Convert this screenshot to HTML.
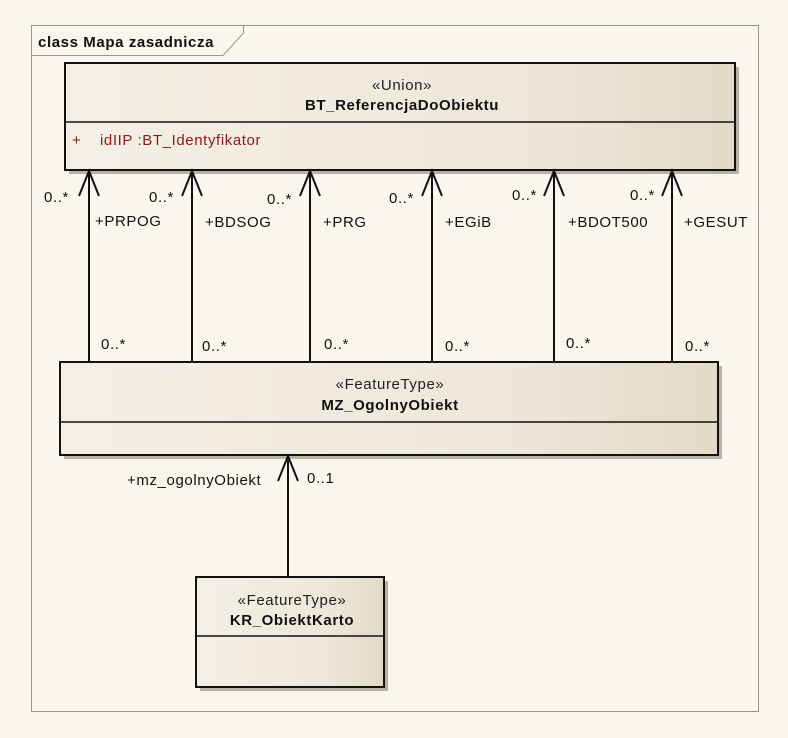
<!DOCTYPE html>
<html><head><meta charset="utf-8"><style>
html,body{margin:0;padding:0;background:#FAF6EE;}
svg{display:block;font-family:"Liberation Sans",sans-serif;}
svg text{letter-spacing:0.6px;}
</style></head><body>
<svg width="788" height="738" viewBox="0 0 788 738" xmlns="http://www.w3.org/2000/svg">
<defs>
<linearGradient id="g" x1="0" x2="1" y1="0" y2="0">
<stop offset="0" stop-color="#F4EFE5"/><stop offset="0.7" stop-color="#EEE7D9"/><stop offset="1" stop-color="#E2D9C6"/>
</linearGradient>
</defs>
<rect x="0" y="0" width="788" height="738" fill="#FAF6EE"/>
<rect x="31.5" y="25.5" width="727" height="686" fill="none" stroke="#9A948A" stroke-width="1"/>
<path d="M31.5 55.5 H223 L243.5 33 V25.5" fill="none" stroke="#9A948A" stroke-width="1"/>
<text x="38" y="47" font-size="15" font-weight="bold" fill="#111">class Mapa zasadnicza</text>

<!-- top box -->
<rect x="69" y="67" width="670" height="107" fill="#B8B2A6"/>
<rect x="65" y="63" width="670" height="107" fill="url(#g)" stroke="#111" stroke-width="2"/>
<line x1="65" y1="122" x2="735" y2="122" stroke="#111" stroke-width="1.5"/>
<text x="402" y="90" font-size="15" text-anchor="middle" fill="#222">«Union»</text>
<text x="402" y="110" font-size="15" font-weight="bold" text-anchor="middle" fill="#111">BT_ReferencjaDoObiektu</text>
<text x="72" y="145" font-size="15" fill="#8B1A1A">+</text>
<text x="100" y="145" font-size="15" fill="#8B1A1A">idIIP  :BT_Identyfikator</text>

<!-- middle box -->
<rect x="64" y="366" width="658" height="93" fill="#B8B2A6"/>
<rect x="60" y="362" width="658" height="93" fill="url(#g)" stroke="#111" stroke-width="2"/>
<line x1="60" y1="422" x2="718" y2="422" stroke="#111" stroke-width="1.5"/>
<text x="390" y="389" font-size="15" text-anchor="middle" fill="#222">«FeatureType»</text>
<text x="390" y="410" font-size="15" font-weight="bold" text-anchor="middle" fill="#111">MZ_OgolnyObiekt</text>

<!-- bottom box -->
<rect x="200" y="581" width="188" height="110" fill="#B8B2A6"/>
<rect x="196" y="577" width="188" height="110" fill="url(#g)" stroke="#111" stroke-width="2"/>
<line x1="196" y1="636" x2="384" y2="636" stroke="#111" stroke-width="1.5"/>
<text x="292" y="605" font-size="15" text-anchor="middle" fill="#222">«FeatureType»</text>
<text x="292" y="625" font-size="15" font-weight="bold" text-anchor="middle" fill="#111">KR_ObiektKarto</text>

<g stroke="#111" stroke-width="2" fill="none">
<path d="M89 361 V171 M79 196 L89 171 L99 196"/>
<path d="M192 361 V171 M182 196 L192 171 L202 196"/>
<path d="M310 361 V171 M300 196 L310 171 L320 196"/>
<path d="M432 361 V171 M422 196 L432 171 L442 196"/>
<path d="M554 361 V171 M544 196 L554 171 L564 196"/>
<path d="M672 361 V171 M662 196 L672 171 L682 196"/>
<path d="M288 577 V456 M278 481 L288 456 L298 481"/>
</g>

<g font-size="15" fill="#111">
<text x="44" y="202">0..*</text>
<text x="149" y="202">0..*</text>
<text x="267" y="204">0..*</text>
<text x="389" y="203">0..*</text>
<text x="512" y="200">0..*</text>
<text x="630" y="200">0..*</text>
<text x="95" y="226">+PRPOG</text>
<text x="205" y="227">+BDSOG</text>
<text x="323" y="227">+PRG</text>
<text x="445" y="227">+EGiB</text>
<text x="568" y="227">+BDOT500</text>
<text x="684" y="227">+GESUT</text>
<text x="101" y="349">0..*</text>
<text x="202" y="351">0..*</text>
<text x="324" y="349">0..*</text>
<text x="445" y="351">0..*</text>
<text x="566" y="348">0..*</text>
<text x="685" y="351">0..*</text>
<text x="127" y="485">+mz_ogolnyObiekt</text>
<text x="307" y="483">0..1</text>
</g>
</svg>
</body></html>
